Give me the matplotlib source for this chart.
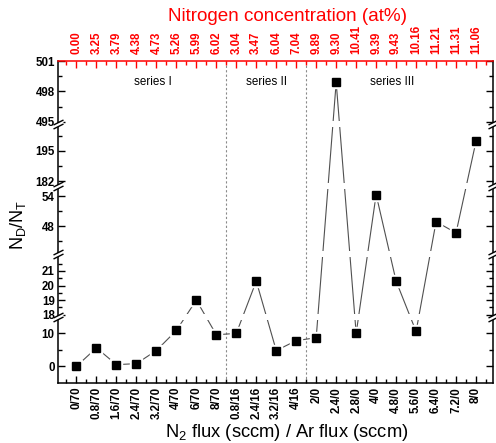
import numpy as np
import matplotlib
matplotlib.use("Agg")
import matplotlib.pyplot as plt
from matplotlib.patches import Rectangle
from matplotlib.path import Path
from matplotlib.ticker import FixedLocator


# -----------------------------
# Data
# -----------------------------
flux_labels = [
    "0/70", "0.8/70", "1.6/70", "2.4/70", "3.2/70", "4/70", "6/70", "8/70",
    "0.8/16", "2.4/16", "3.2/16", "4/16",
    "2/0", "2.4/0", "2.8/0", "4/0", "4.8/0", "5.6/0", "6.4/0", "7.2/0", "8/0",
]
n_conc_labels = [
    "0.00", "3.25", "3.79", "4.38", "4.73", "5.26", "5.99", "6.02",
    "3.04", "3.47", "6.04", "7.04",
    "9.89", "9.30", "10.41", "9.39", "9.43", "10.16", "11.21", "11.31", "11.06",
]
nd_nt = [
    0.0, 5.6, 0.5, 0.8, 4.8, 10.9, 19.0, 9.6,
    10.0, 20.3, 4.8, 7.8,
    8.7, 498.9, 10.0, 54.3, 20.3, 10.6, 48.9, 46.7, 199.1,
]
series_names = ["series I", "series II", "series III"]
series_centers = [3.8, 9.5, 15.8]
series_bounds = [7.5, 11.5]

# broken y axis: value range of each piece and its relative height
seg_lo = np.array([-5.0, 17.85, 42.5, 180.0, 494.8])
seg_hi = np.array([15.0, 22.15, 56.0, 206.5, 501.0])
seg_h = np.array([65.7, 63.0, 68.0, 62.0, 63.0])
cum = np.concatenate([[0.0], np.cumsum(seg_h)])

y_major = [0, 10, 18, 19, 20, 21, 48, 54, 182, 195, 495, 498, 501]
y_minor = [5, 18.5, 19.5, 20.5, 21.5, 45, 51, 188.5, 201.5, 496.5, 499.5]


# -----------------------------
# Piecewise scale for the breaks
# -----------------------------
xp = np.ravel(np.column_stack([seg_lo, seg_hi]))
fp = np.ravel(np.column_stack([cum[:-1], cum[1:]]))


def forward(y):
    return np.interp(np.asarray(y, float), xp, fp)


def inverse(t):
    t = np.asarray(t, float)
    i = np.clip(np.searchsorted(cum, t, side="right") - 1, 0, len(seg_h) - 1)
    return seg_lo[i] + (t - cum[i]) / seg_h[i] * (seg_hi[i] - seg_lo[i])


plt.rcParams["font.family"] = ["Liberation Sans", "DejaVu Sans"]
plt.rcParams["mathtext.fontset"] = "custom"
plt.rcParams["mathtext.rm"] = "Liberation Sans"

fig = plt.figure(figsize=(4.96, 4.43), dpi=100)
ax = fig.add_axes([57.5 / 496, 1 - 382.7 / 443, 435.5 / 496, 321.7 / 443])

x = np.arange(len(flux_labels))

ax.set_yscale("function", functions=(forward, inverse))
ax.set_ylim(seg_lo[0], seg_hi[-1])
ax.set_xlim(-0.95, 20.85)

# separators between series
for xb in series_bounds:
    ax.axvline(xb, color="#8a8a8a", lw=0.8, ls=(0, (2, 2)), zorder=1)

# line, cut at every break
total = cum[-1]
gap = 3.0 / 321.7
for i in range(len(seg_h)):
    line, = ax.plot(x, nd_nt, color="#505050", lw=0.8, zorder=2)
    f0 = cum[i] / total + (gap if i > 0 else -0.2)
    f1 = cum[i + 1] / total - (gap if i < len(seg_h) - 1 else -0.2)
    clip = Rectangle((0, f0), 1, f1 - f0, transform=ax.transAxes)
    line.set_clip_path(clip)

# symbols with a small white gap round them
ax.plot(x, nd_nt, ls="none", marker="s", ms=8.8, color="white", zorder=3)
ax.plot(x, nd_nt, ls="none", marker="s", ms=5.2, color="black", zorder=4)

for name, xc in zip(series_names, series_centers):
    ax.text(xc, 0.935, name, transform=ax.get_xaxis_transform(),
            ha="center", va="center", fontsize=8.4)

# axis ticks
ax.yaxis.set_major_locator(FixedLocator(y_major))
ax.yaxis.set_minor_locator(FixedLocator(y_minor))
ax.set_yticklabels([str(v) for v in y_major])
ax.set_xticks(x)
ax.set_xticklabels(flux_labels, rotation=90)
ax.xaxis.set_minor_locator(FixedLocator(np.arange(-0.5, 21, 1.0)))

ax.tick_params(axis="both", which="both", direction="in", width=1.0,
               right=True, labelsize=8.3)
ax.tick_params(axis="both", which="major", length=5)
ax.tick_params(axis="both", which="minor", length=3)
ax.tick_params(axis="x", pad=3)
ax.tick_params(axis="y", pad=2)
for lab in ax.get_xticklabels() + ax.get_yticklabels():
    lab.set_fontweight("bold")

for side in ["left", "right", "bottom"]:
    ax.spines[side].set_linewidth(1.1)
ax.spines["top"].set_visible(False)

ax.set_xlabel(r"N$_\mathregular{2}$ flux (sccm) / Ar flux (sccm)", fontsize=13.2)
ax.xaxis.set_label_coords(0.527, -0.156)
ax.xaxis.label.set_va("center")
ax.set_ylabel(r"N$_\mathregular{D}$/N$_\mathregular{T}$", fontsize=13)
ax.yaxis.set_label_coords(-0.09, 0.49)
ax.yaxis.label.set_va("center")

# top axis: nitrogen concentration
ax2 = ax.twiny()
ax2.set_xlim(ax.get_xlim())
ax2.set_xticks(x)
ax2.set_xticklabels(n_conc_labels, rotation=90, color="red")
ax2.xaxis.set_minor_locator(FixedLocator(np.arange(-0.5, 21, 1.0)))
ax2.tick_params(axis="x", which="both", direction="in", colors="red",
                width=1.0, labelsize=8.3, pad=5)
ax2.tick_params(axis="x", which="major", length=5)
ax2.tick_params(axis="x", which="minor", length=3)
for lab in ax2.get_xticklabels():
    lab.set_fontweight("bold")
for side in ["left", "right", "bottom"]:
    ax2.spines[side].set_visible(False)
ax2.spines["top"].set_color("red")
ax2.spines["top"].set_linewidth(1.1)
ax2.set_xlabel("Nitrogen concentration (at%)", color="red", fontsize=13.6)
ax2.xaxis.set_label_coords(0.527, 1.137)
ax2.xaxis.label.set_va("center")

# break marks on both y spines
slash_fill = Path([(-5, -4.5), (5, 0.5), (5, 4.5), (-5, -0.5), (-5, -4.5)],
                  [Path.MOVETO, Path.LINETO, Path.LINETO, Path.LINETO, Path.CLOSEPOLY])
slash_lines = Path([(-5, -4.5), (5, 0.5), (-5, -0.5), (5, 4.5)],
                   [Path.MOVETO, Path.LINETO, Path.MOVETO, Path.LINETO])
for xs in [0, 1]:
    for yb in seg_hi[:-1]:
        ax.plot([xs], [yb], transform=ax.get_yaxis_transform(), marker=slash_fill,
                ms=7.2, color="white", mec="none", ls="none", clip_on=False, zorder=6)
        ax.plot([xs], [yb], transform=ax.get_yaxis_transform(), marker=slash_lines,
                ms=7.2, mfc="none", mec="black", mew=1.0, ls="none",
                clip_on=False, zorder=7)

fig.savefig("out.png", dpi=100, facecolor="white")
